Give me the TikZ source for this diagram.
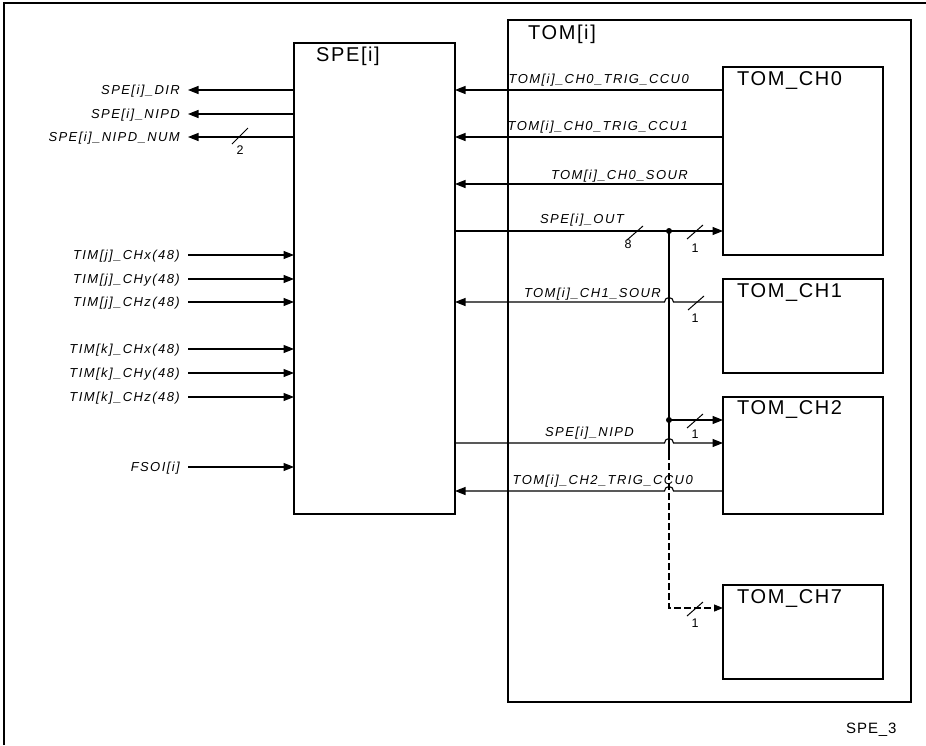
\documentclass[tikz,border=0pt]{standalone}
\usepackage{fontspec}
\setmainfont{Liberation Sans}
\newfontfamily\sigfam[LetterSpace=11]{Liberation Sans}
\newfontfamily\titfam[LetterSpace=8]{Liberation Sans}
\newfontfamily\tagfam[LetterSpace=6]{Liberation Sans}
\usetikzlibrary{arrows.meta,calc}
\begin{document}
\begin{tikzpicture}[x=1pt,y=-1pt,
 box/.style={draw, line width=1.3pt, inner sep=0pt, outer sep=0pt, anchor=north west},
 title/.style={font=\titfam\fontsize{20}{22}\selectfont, inner sep=0pt, anchor=base west},
 sig/.style={font=\sigfam\itshape\fontsize{13}{15}\selectfont, inner sep=0pt},
 num/.style={font=\fontsize{12.5}{14}\selectfont, inner sep=0pt},
 wire/.style={line width=1.1pt},
 arr/.style={wire, -{Triangle[length=10.5pt,width=8pt]}},
 slashmark/.style={line width=1pt},
]
\useasboundingbox (0,0) rectangle (926,745);
% outer frame
\draw[line width=1.3pt] (4,745) -- (4,3) -- (926,3);

% blocks
\node[box, minimum width=161pt, minimum height=471pt] (spe) at (294,43) {};
\node[box, line width=2.2pt, minimum width=403pt, minimum height=682pt] (tom) at (508,20) {};
\node[box, minimum width=160pt, minimum height=188pt] (ch0) at (723,67) {};
\node[box, minimum width=160pt, minimum height=94pt] (ch1) at (723,279) {};
\node[box, minimum width=160pt, minimum height=117pt] (ch2) at (723,397) {};
\node[box, minimum width=160pt, minimum height=94pt] (ch7) at (723,585) {};

\node[title] (spet) at (316,61.5) {SPE[i]};
\node[title] (tomt) at (528,39) {TOM[i]};
\node[title] (ch0t) at (737,85) {TOM\_CH0};
\node[title] (ch1t) at (737,297) {TOM\_CH1};
\node[title] (ch2t) at (737,414) {TOM\_CH2};
\node[title] (ch7t) at (737,603) {TOM\_CH7};

% left side signals
\foreach \nm/\yy/\txt in {
  pdir/90/{SPE[i]\_DIR},
  pnipd/114/{SPE[i]\_NIPD},
  pnum/137/{SPE[i]\_NIPD\_NUM},
  pjx/255/{TIM[j]\_CHx(48)},
  pjy/279/{TIM[j]\_CHy(48)},
  pjz/302/{TIM[j]\_CHz(48)},
  pkx/349/{TIM[k]\_CHx(48)},
  pky/373/{TIM[k]\_CHy(48)},
  pkz/397/{TIM[k]\_CHz(48)},
  pfs/467/{FSOI[i]}}{
  \coordinate (\nm) at (188,\yy);
  \node[sig, anchor=base east] (\nm-l) at (180,\yy+4.5) {\txt};
}
\foreach \nm in {pdir,pnipd,pnum}{\draw[arr] (spe.west |- \nm) -- (\nm);}
\foreach \nm in {pjx,pjy,pjz,pkx,pky,pkz,pfs}{\draw[arr] (\nm) -- (spe.west |- \nm);}

% bus marks left
\coordinate (s2) at (240,136);
\draw[slashmark] ($(s2)+(-8,8)$) -- ($(s2)+(8,-8)$);
\node[num] (n2) at (240,150) {2};

% level coordinates on the right
\coordinate (yc0) at (0,90);
\coordinate (yc1) at (0,137);
\coordinate (ys0) at (0,184);
\coordinate (yout) at (0,231);
\coordinate (ys1) at (0,302);
\coordinate (ynp) at (0,443);
\coordinate (yt2) at (0,491);
\coordinate (jA) at (669,231);
\coordinate (jB) at (669,420);
\coordinate (jC) at (669,453);
\coordinate (jD) at (669,608);

% TOM -> SPE signals
\draw[arr] (ch0.west |- yc0) -- (spe.east |- yc0);
\draw[arr] (ch0.west |- yc1) -- (spe.east |- yc1);
\draw[arr] (ch0.west |- ys0) -- (spe.east |- ys0);
\node[sig, anchor=base east] (lc0) at (689,83) {TOM[i]\_CH0\_TRIG\_CCU0};
\node[sig, anchor=base east] (lc1) at (688,130) {TOM[i]\_CH0\_TRIG\_CCU1};
\node[sig, anchor=base east] (ls0) at (688,179) {TOM[i]\_CH0\_SOUR};

% SPE_OUT bus
\draw[arr] (spe.east |- yout) -- (ch0.west |- yout);
\node[sig, anchor=base east] (lout) at (624,223) {SPE[i]\_OUT};
\draw[wire] (jA) -- (jC);
\draw[wire, dash pattern=on 7pt off 3pt, -{Triangle[length=9pt,width=7pt]}] (jC) -- (jD) -- (ch7.west |- jD);
\draw[arr] (jB) -- (ch2.west |- jB);
\fill (jA) circle[radius=3pt];
\fill (jB) circle[radius=3pt];

% hopped signals
\draw[arr] (ch1.west |- ys1) -- ($(jA |- ys1)+(4.5,0)$) arc[start angle=0,end angle=180,radius=4.5pt] -- (spe.east |- ys1);
\node[sig, anchor=base east] (ls1) at (661,297) {TOM[i]\_CH1\_SOUR};
\draw[arr] (spe.east |- ynp) -- ($(jA |- ynp)+(-4.5,0)$) arc[start angle=180,end angle=0,radius=4.5pt] -- (ch2.west |- ynp);
\node[sig, anchor=base east] (lnp) at (634,436) {SPE[i]\_NIPD};
\draw[arr] (ch2.west |- yt2) -- ($(jA |- yt2)+(4.5,0)$) arc[start angle=0,end angle=180,radius=4.5pt] -- (spe.east |- yt2);
\node[sig, anchor=base east] (lt2) at (693,484) {TOM[i]\_CH2\_TRIG\_CCU0};

% bus width marks
\coordinate (s8) at (635,233);
\coordinate (sa) at (695,232);
\coordinate (sb) at (696,303);
\coordinate (sc) at (695,421);
\coordinate (sd) at (695,609);
\foreach \c in {s8,sa,sb,sc,sd}{\draw[slashmark] ($(\c)+(-8,7)$) -- ($(\c)+(8,-7)$);}
\node[num] (n8) at (628,244) {8};
\node[num] (na) at (695,248) {1};
\node[num] (nb) at (695,318) {1};
\node[num] (nc) at (695,434) {1};
\node[num] (nd) at (695,623) {1};

\node[font=\tagfam\fontsize{15}{17}\selectfont, anchor=base west, inner sep=0pt] (tag) at (846,733) {SPE\_3};
\end{tikzpicture}
\end{document}
